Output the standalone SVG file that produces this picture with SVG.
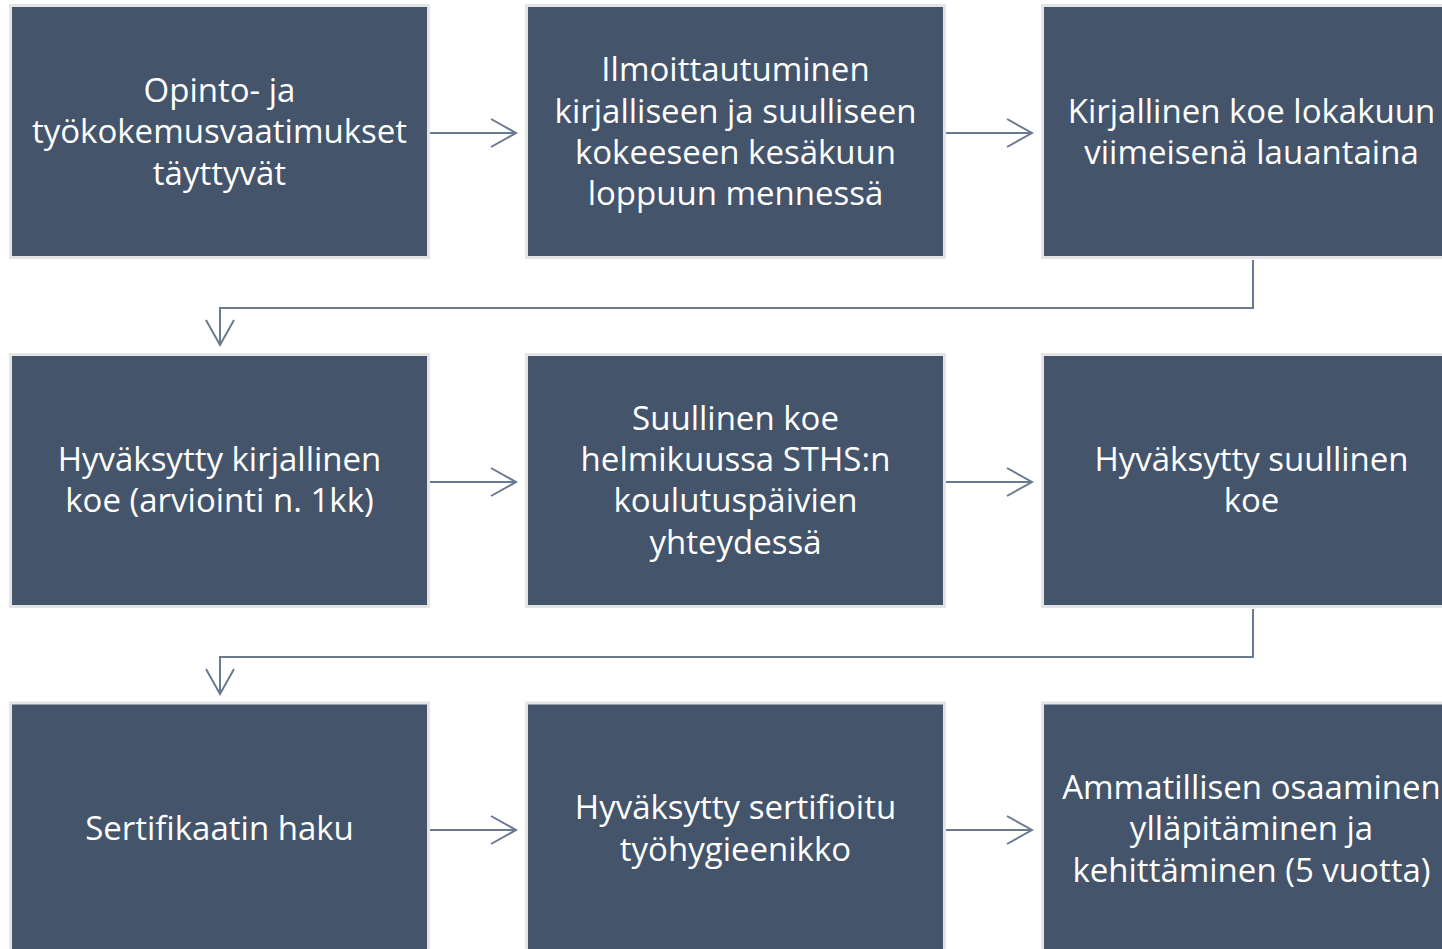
<svg xmlns="http://www.w3.org/2000/svg" width="1442" height="949" viewBox="0 0 1442 949">
<style>
.box{fill:#44546a;stroke:#e4e4e4;stroke-width:3}
.t{font-family:"Open Sans",Lato,"Liberation Sans",sans-serif;font-size:33px;fill:#ffffff;text-anchor:middle}
.c{fill:none;stroke:#6a7a90;stroke-width:2}
</style>
<rect width="1442" height="949" fill="#ffffff"/>
<g id="n1"><rect class="box" x="10.5" y="5.5" width="418" height="252"/>
<text class="t"><tspan x="219.5" y="102">Opinto- ja</tspan><tspan x="219.5" y="143">työkokemusvaatimukset</tspan><tspan x="219.5" y="185">täyttyvät</tspan></text></g>
<g id="n2"><rect class="box" x="526.5" y="5.5" width="418" height="252"/>
<text class="t"><tspan x="735.5" y="81">Ilmoittautuminen</tspan><tspan x="735.5" y="123">kirjalliseen ja suulliseen</tspan><tspan x="735.5" y="164">kokeeseen kesäkuun</tspan><tspan x="735.5" y="205">loppuun mennessä</tspan></text></g>
<g id="n3"><rect class="box" x="1042.5" y="5.5" width="418" height="252"/>
<text class="t"><tspan x="1251.5" y="123">Kirjallinen koe lokakuun</tspan><tspan x="1251.5" y="164">viimeisenä lauantaina</tspan></text></g>
<g id="n4"><rect class="box" x="10.5" y="354.5" width="418" height="252"/>
<text class="t"><tspan x="219.5" y="471">Hyväksytty kirjallinen</tspan><tspan x="219.5" y="512">koe (arviointi n. 1kk)</tspan></text></g>
<g id="n5"><rect class="box" x="526.5" y="354.5" width="418" height="252"/>
<text class="t"><tspan x="735.5" y="430">Suullinen koe</tspan><tspan x="735.5" y="471">helmikuussa STHS:n</tspan><tspan x="735.5" y="512">koulutuspäivien</tspan><tspan x="735.5" y="554">yhteydessä</tspan></text></g>
<g id="n6"><rect class="box" x="1042.5" y="354.5" width="418" height="252"/>
<text class="t"><tspan x="1251.5" y="471">Hyväksytty suullinen</tspan><tspan x="1251.5" y="512">koe</tspan></text></g>
<g id="n7"><rect class="box" x="10.5" y="703" width="418" height="260"/>
<text class="t"><tspan x="219.5" y="840">Sertifikaatin haku</tspan></text></g>
<g id="n8"><rect class="box" x="526.5" y="703" width="418" height="260"/>
<text class="t"><tspan x="735.5" y="819">Hyväksytty sertifioitu</tspan><tspan x="735.5" y="861">työhygieenikko</tspan></text></g>
<g id="n9"><rect class="box" x="1042.5" y="703" width="418" height="260"/>
<text class="t"><tspan x="1251.5" y="799">Ammatillisen osaaminen</tspan><tspan x="1251.5" y="840">ylläpitäminen ja</tspan><tspan x="1251.5" y="882">kehittäminen (5 vuotta)</tspan></text></g>
<g id="connectors">
<path class="c" d="M430 133H516M491 119L516 133L491 147"/>
<path class="c" d="M946 133H1032M1007 119L1032 133L1007 147"/>
<path class="c" d="M430 482H516M491 468L516 482L491 496"/>
<path class="c" d="M946 482H1032M1007 468L1032 482L1007 496"/>
<path class="c" d="M430 830H516M491 816L516 830L491 844"/>
<path class="c" d="M946 830H1032M1007 816L1032 830L1007 844"/>
<path class="c" d="M1253 260V308H220V345M206 320L220 345L234 320"/>
<path class="c" d="M1253 609V657H220V694M206 669L220 694L234 669"/>
</g>
</svg>
